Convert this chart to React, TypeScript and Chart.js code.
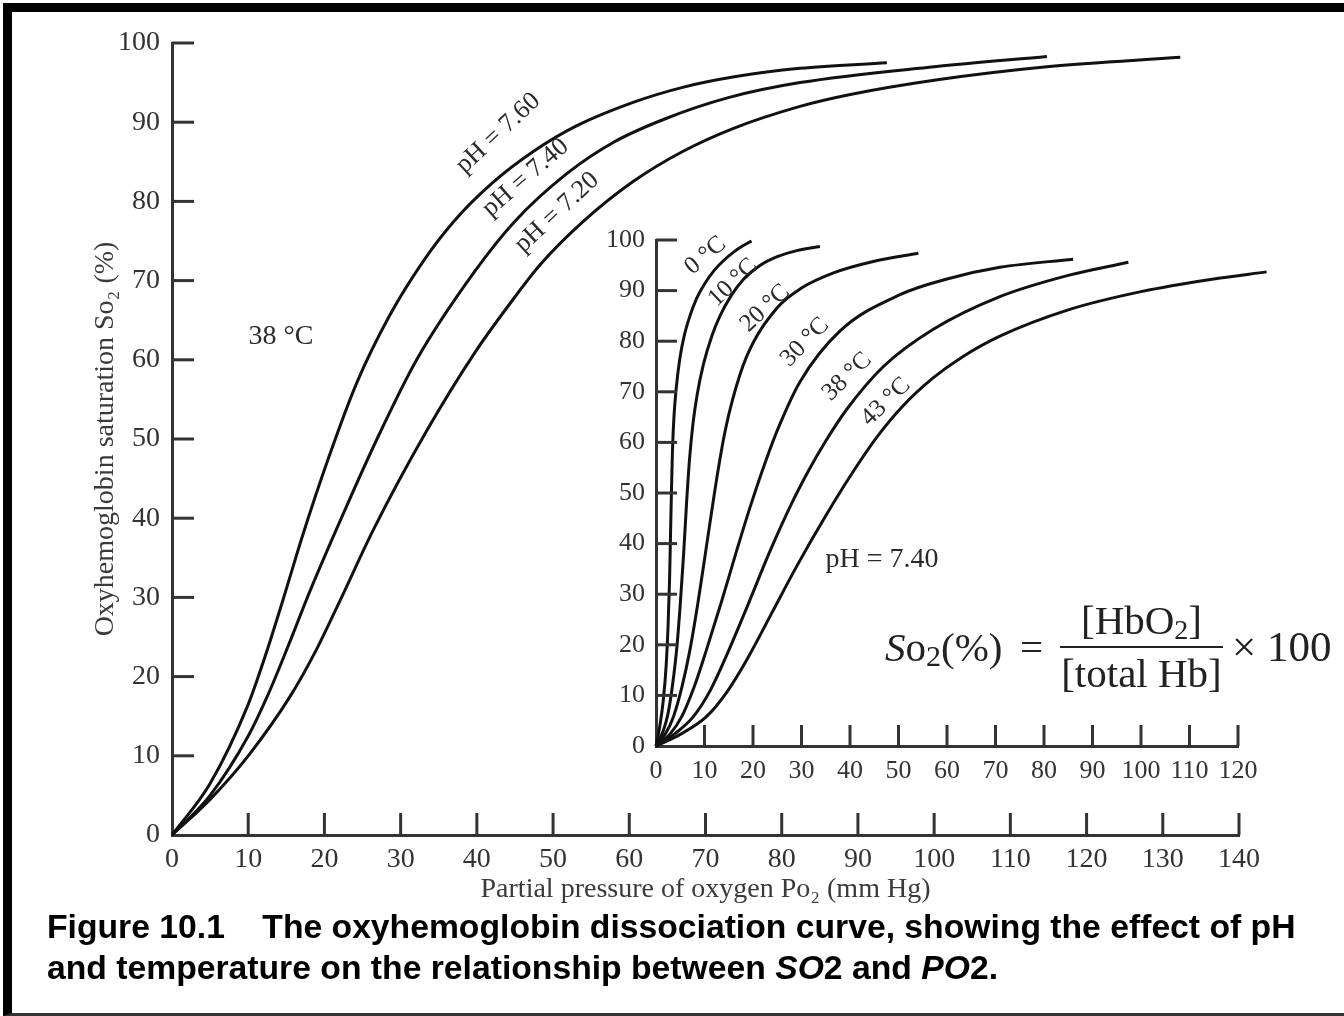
import React, { useEffect, useRef } from "react";
import { Chart, registerables } from "chart.js";
Chart.register(...registerables);

type Pt = [number, number];

// ---- tick values ----
const mainXTicks = [0, 10, 20, 30, 40, 50, 60, 70, 80, 90, 100, 110, 120, 130, 140];
const mainYTicks = [0, 10, 20, 30, 40, 50, 60, 70, 80, 90, 100];
const insetXTicks = [0, 10, 20, 30, 40, 50, 60, 70, 80, 90, 100, 110, 120];
const insetYTicks = [0, 10, 20, 30, 40, 50, 60, 70, 80, 90, 100];

// ---- main chart: pH curves at 38 °C (PO2 mm Hg, SO2 %) ----
const pH760: Pt[] = [
  [0, 0], [5, 6.5], [10, 16.5], [12.2, 22.5], [14.6, 29.8], [17.2, 38], [20.5, 47.5],
  [24.2, 57], [28.5, 65.5], [33, 72.5], [37, 77.5], [42, 82.3], [47.4, 86.3], [53, 89.5],
  [60.5, 92.5], [67, 94.4], [73.6, 95.7], [82.4, 96.8], [93.8, 97.5],
];
const pH740: Pt[] = [
  [0, 0], [5, 5], [10, 12.5], [12.5, 17.5], [15.3, 24], [18.1, 30.8], [22.9, 41.5],
  [26.9, 50], [32.1, 60], [39.6, 71], [45, 77.5], [51.8, 83.5], [58, 87.5], [64.9, 90.5],
  [73, 93.1], [82.4, 95], [100, 97], [114.8, 98.3],
];
const pH720: Pt[] = [
  [0, 0], [5, 4.5], [10, 10], [15.5, 17.5], [19, 23.5], [22, 29.5], [26.4, 38.5], [33.4, 51],
  [39.8, 61], [44.5, 67.3], [48.3, 72], [54, 77.5], [60.5, 82.5], [67, 86.3], [73.6, 89.2],
  [82.4, 92], [89, 93.5], [100, 95.3], [114.8, 97], [132.3, 98.2],
];

// ---- inset: temperature curves at pH 7.40 ----
const t0C: Pt[] = [
  [0, 0], [0.8, 4], [1.5, 9], [2.1, 16], [2.5, 24], [2.8, 33], [3.0, 42], [3.2, 51],
  [3.4, 58.5], [3.7, 65], [4.2, 71], [4.9, 76.5], [5.8, 81], [7, 85], [8.4, 88.5], [10, 91.3],
  [12, 94], [14, 96], [16, 97.6], [18, 98.9], [19.7, 99.8],
];
const t10C: Pt[] = [
  [0, 0], [1.5, 3], [2.5, 6.5], [3.4, 12], [4.3, 19.5], [5.0, 28], [5.7, 38], [6.3, 48],
  [6.9, 56.5], [7.6, 63.5], [8.5, 69.5], [9.8, 75.5], [11.5, 81], [13.2, 85], [15.5, 89],
  [18, 92.2], [21.5, 95], [25, 96.7], [29, 97.9], [33.8, 98.7],
];
const t20C: Pt[] = [
  [0, 0], [2, 2.5], [3.6, 5.8], [5.3, 11.5], [7.0, 19], [8.6, 28], [10.1, 37.5], [11.5, 46.5],
  [12.8, 54.5], [14.2, 62], [15.8, 68.5], [18.7, 77], [24.9, 86.5], [30, 90.5], [36.6, 93.5],
  [45, 95.8], [54.1, 97.4],
];
const t30C: Pt[] = [
  [0, 0], [3, 2.5], [5.3, 5.8], [7.8, 11.5], [10.4, 19], [13.5, 28.5], [16.6, 38.5],
  [19.5, 47.5], [22.5, 56], [25.5, 63.5], [29.7, 72], [37.9, 82], [50.3, 89.2], [60, 92.3],
  [70.9, 94.6], [86, 96.2],
];
const t38C: Pt[] = [
  [0, 0], [4, 2.5], [7.7, 5.8], [11.2, 11], [14.6, 18], [19, 28], [23.5, 38.5], [28, 48],
  [31.5, 54.5], [34.5, 59.5], [39.3, 66.5], [46.9, 75], [57.1, 82.3], [70.9, 88.8], [85, 93],
  [97.4, 95.6],
];
const t43C: Pt[] = [
  [0, 0], [5, 2.3], [10.4, 5.8], [14.5, 10.5], [18.7, 17], [24, 26.5], [29, 35.5], [35, 45.5],
  [40.5, 54], [45.5, 61], [51, 67.3], [57.2, 72.8], [63, 76.8], [70.9, 81], [85, 86.2],
  [100, 89.8], [115, 92.3], [125.9, 93.7],
];

// ---- curve labels (data coordinates) ----
const mainLabels = [
  { text: "pH = 7.60", x: 42.8, y: 88.6, angle: -43, size: 26 },
  { text: "pH = 7.40", x: 46.4, y: 83.0, angle: -41, size: 26 },
  { text: "pH = 7.20", x: 50.5, y: 78.6, angle: -43, size: 26 },
  { text: "38 °C", x: 14.3, y: 62.9, angle: 0, size: 28 },
];
const insetLabels = [
  { text: "0 °C", x: 10.2, y: 96.9, angle: -40, size: 25 },
  { text: "10 °C", x: 15.9, y: 91.6, angle: -44, size: 25 },
  { text: "20 °C", x: 22.5, y: 86.5, angle: -43, size: 25 },
  { text: "30 °C", x: 30.7, y: 79.8, angle: -46, size: 25 },
  { text: "38 °C", x: 39.4, y: 73.0, angle: -44, size: 25 },
  { text: "43 °C", x: 47.4, y: 68.0, angle: -44, size: 25 },
  { text: "pH = 7.40", x: 46.6, y: 36.8, angle: 0, size: 28 },
];

const SERIF = "'Liberation Serif', 'DejaVu Serif', serif";
const AXIS_COLOR = "#333";
const LINE_COLOR = "#111";

const tickMarks = {
  id: "tickMarks",
  afterDraw(chart: any, _args: any, opts: any) {
    const { ctx, chartArea } = chart;
    const xs = chart.scales.x;
    const ys = chart.scales.y;
    ctx.save();
    ctx.strokeStyle = opts.color;
    ctx.lineWidth = opts.width;
    for (const t of xs.ticks) {
      if (t.value === xs.min) continue;
      const px = xs.getPixelForValue(t.value);
      ctx.beginPath();
      ctx.moveTo(px, chartArea.bottom);
      ctx.lineTo(px, chartArea.bottom - opts.xLen);
      ctx.stroke();
    }
    for (const t of ys.ticks) {
      if (t.value === ys.min) continue;
      const py = ys.getPixelForValue(t.value);
      ctx.beginPath();
      ctx.moveTo(chartArea.left, py);
      ctx.lineTo(chartArea.left + opts.yLen, py);
      ctx.stroke();
    }
    ctx.restore();
  },
};

const curveLabels = {
  id: "curveLabels",
  afterDraw(chart: any, _args: any, opts: any) {
    const { ctx } = chart;
    const xs = chart.scales.x;
    const ys = chart.scales.y;
    ctx.save();
    ctx.fillStyle = opts.color;
    ctx.textAlign = "center";
    ctx.textBaseline = "middle";
    for (const l of opts.items) {
      const px = xs.getPixelForValue(l.x);
      const py = ys.getPixelForValue(l.y);
      ctx.save();
      ctx.font = `${l.size}px ${SERIF}`;
      ctx.translate(px, py);
      ctx.rotate((l.angle * Math.PI) / 180);
      ctx.fillText(l.text, 0, 0);
      ctx.restore();
    }
    ctx.restore();
  },
};

function ds(pts: Pt[]) {
  return {
    data: pts.map(([x, y]) => ({ x, y })),
    borderColor: LINE_COLOR,
    borderWidth: 3,
    pointRadius: 0,
    showLine: true,
    fill: false,
    cubicInterpolationMode: "monotone" as const,
    clip: false as any,
  };
}

function makeConfig(p: {
  series: Pt[][];
  xTicks: number[];
  yTicks: number[];
  xMax: number;
  padding: any;
  yWidth: number;
  xHeight: number;
  tickFont: number;
  tickLen: number;
  xPad: number;
  yPad: number;
  labels: any[];
  xTitle?: string;
  yTitle?: string;
}) {
  return {
    type: "scatter" as const,
    data: { datasets: p.series.map(ds) },
    options: {
      responsive: false,
      animation: false as const,
      devicePixelRatio: 1,
      layout: { padding: p.padding },
      plugins: {
        legend: { display: false },
        tooltip: { enabled: false },
        tickMarks: { color: AXIS_COLOR, width: 3, xLen: p.tickLen, yLen: p.tickLen },
        curveLabels: { color: "#2a2a2a", items: p.labels },
      },
      scales: {
        x: {
          type: "linear" as const,
          min: 0,
          max: p.xMax,
          afterBuildTicks: (s: any) => {
            s.ticks = p.xTicks.map((v) => ({ value: v }));
          },
          afterFit: (s: any) => {
            s.height = p.xHeight;
          },
          grid: { display: false },
          border: { display: true, color: AXIS_COLOR, width: 3 },
          ticks: {
            color: AXIS_COLOR,
            padding: p.xPad,
            maxRotation: 0,
            autoSkip: false,
            font: { family: SERIF, size: p.tickFont },
          },
          title: p.xTitle
            ? {
                display: true,
                text: p.xTitle,
                color: "#3a3a3a",
                padding: 0,
                font: { family: SERIF, size: 28 },
              }
            : { display: false },
        },
        y: {
          type: "linear" as const,
          min: 0,
          max: 100,
          afterBuildTicks: (s: any) => {
            s.ticks = p.yTicks.map((v) => ({ value: v }));
          },
          afterFit: (s: any) => {
            s.width = p.yWidth;
          },
          grid: { display: false },
          border: { display: true, color: AXIS_COLOR, width: 3 },
          ticks: {
            color: AXIS_COLOR,
            padding: p.yPad,
            autoSkip: false,
            font: { family: SERIF, size: p.tickFont },
          },
          title: p.yTitle
            ? {
                display: true,
                text: p.yTitle,
                color: "#3a3a3a",
                padding: 0,
                font: { family: SERIF, size: 28 },
              }
            : { display: false },
        },
      },
    },
    plugins: [tickMarks, curveLabels],
  };
}

export default function App() {
  const mainRef = useRef<HTMLCanvasElement>(null);
  const insetRef = useRef<HTMLCanvasElement>(null);

  useEffect(() => {
    const main = new Chart(
      mainRef.current as HTMLCanvasElement,
      makeConfig({
        series: [pH760, pH740, pH720],
        xTicks: mainXTicks,
        yTicks: mainYTicks,
        xMax: 140,
        padding: { left: 89, top: 43, right: 105, bottom: 110 },
        yWidth: 83,
        xHeight: 71,
        tickFont: 28,
        tickLen: 22,
        xPad: 0,
        yPad: 4,
        labels: mainLabels,
        xTitle: "Partial pressure of oxygen Po\u2082 (mm Hg)",
        yTitle: "Oxyhemoglobin saturation So\u2082 (%)",
      }) as any
    );
    const inset = new Chart(
      insetRef.current as HTMLCanvasElement,
      makeConfig({
        series: [t0C, t10C, t20C, t30C, t38C, t43C],
        xTicks: insetXTicks,
        yTicks: insetYTicks,
        xMax: 120,
        padding: { left: 40, top: 40, right: 62, bottom: 14 },
        yWidth: 56,
        xHeight: 40,
        tickFont: 26,
        tickLen: 21,
        xPad: 2,
        yPad: 3,
        labels: insetLabels,
      }) as any
    );
    return () => {
      main.destroy();
      inset.destroy();
    };
  }, []);

  const formulaFont: React.CSSProperties = {
    position: "absolute",
    fontFamily: SERIF,
    fontSize: 41,
    lineHeight: "46px",
    color: "#222",
    whiteSpace: "nowrap",
  };

  return (
    <div
      style={{
        position: "absolute",
        left: 0,
        top: 0,
        width: 1344,
        height: 1016,
        overflow: "hidden",
        background: "#fff",
      }}
    >
      {/* frame */}
      <div
        style={{
          position: "absolute",
          left: 3,
          top: 3,
          width: 1341,
          height: 1013,
          boxSizing: "border-box",
          borderLeft: "9px solid #000",
          borderTop: "9px solid #000",
          borderBottom: "3px solid #333",
        }}
      />
      <canvas
        ref={mainRef}
        width={1344}
        height={1016}
        style={{ position: "absolute", left: 0, top: 0, width: 1344, height: 1016 }}
      />
      <canvas
        ref={insetRef}
        width={740}
        height={600}
        style={{ position: "absolute", left: 560, top: 200, width: 740, height: 600 }}
      />
      {/* formula */}
      <div style={{ ...formulaFont, left: 885, top: 624 }}>
        <i>S</i>o<span style={{ fontSize: 30, position: "relative", top: 5 }}>2</span>(%)
      </div>
      <div style={{ ...formulaFont, left: 1020, top: 624 }}>=</div>
      <div style={{ ...formulaFont, left: 1060, width: 163, top: 597, textAlign: "center" }}>
        [HbO<span style={{ fontSize: 28, position: "relative", top: 5 }}>2</span>]
      </div>
      <div
        style={{
          position: "absolute",
          left: 1060,
          top: 646,
          width: 163,
          height: 2,
          background: "#222",
        }}
      />
      <div style={{ ...formulaFont, left: 1060, width: 163, top: 650, textAlign: "center" }}>
        [total Hb]
      </div>
      <div style={{ ...formulaFont, left: 1232, top: 624, fontSize: 43 }}>× 100</div>
      {/* caption */}
      <div
        style={{
          position: "absolute",
          left: 47,
          top: 906,
          fontFamily: "'Liberation Sans', Arial, sans-serif",
          fontWeight: "bold",
          fontSize: 33.7,
          lineHeight: "41px",
          color: "#000",
          whiteSpace: "pre",
        }}
      >
        {"Figure 10.1    The oxyhemoglobin dissociation curve, showing the effect of pH\n"}
        {"and temperature on the relationship between "}
        <i>SO</i>2 and <i>PO</i>2.
      </div>
    </div>
  );
}
